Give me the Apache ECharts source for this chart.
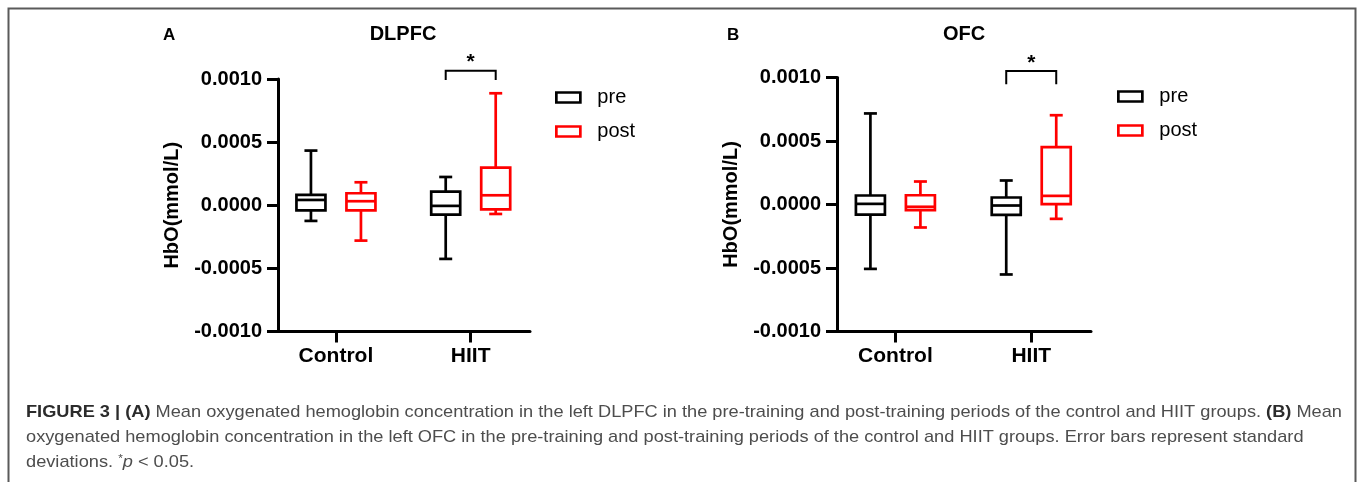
<!DOCTYPE html>
<html>
<head>
<meta charset="utf-8">
<script src="https://cdn.jsdelivr.net/npm/echarts@6/dist/echarts.min.js"></script>
<style>
  html, body { margin: 0; padding: 0; background: #fff; }
  #main { width: 1357px; height: 482px; }
</style>
</head>
<body>
<div id="main"></div>
<script>
const categories = ["Control", "HIIT"];
// box values per category: [min, Q1, median, Q3, max]
const dlpfcPre = [
  [-0.000124, -0.00004, 0.000042, 0.000082, 0.000433],
  [-0.000425, -0.000074, -0.000005, 0.000108, 0.000224],
];
const dlpfcPost = [
  [-0.00028, -0.00004, 0.000032, 0.000095, 0.000182],
  [-0.000069, -0.000032, 0.000079, 0.000298, 0.000887],
];
const ofcPre = [
  [-0.000507, -0.000079, 0.000005, 0.000071, 0.000717],
  [-0.000551, -0.000081, -0.000008, 0.000055, 0.000189],
];
const ofcPost = [
  [-0.000181, -0.000045, -0.000018, 0.000073, 0.000181],
  [-0.000113, 0.000003, 0.000068, 0.000451, 0.000703],
];
// significance bracket: [category index, top, bottom]
const dlpfcSig = [1, 0.001066, 0.000992];
const ofcSig = [1, 0.001052, 0.000947];

const caption1a = "FIGURE 3 | (A)";
const caption1b = " Mean oxygenated hemoglobin concentration in the left DLPFC in the pre-training and post-training periods of the control and HIIT groups. ";
const caption1c = "(B)";
const caption1d = " Mean";
const caption2 = "oxygenated hemoglobin concentration in the left OFC in the pre-training and post-training periods of the control and HIIT groups. Error bars represent standard";

const FONT = '"Liberation Sans", Arial, Helvetica, sans-serif';

let chartDom = document.getElementById("main");
let myChart = echarts.init(chartDom, null, { renderer: "canvas" });

// 量 caption 寬度, 用 scaleX 壓成窄字
const capSize = 17;
const ctx = document.createElement("canvas").getContext("2d");
const textWidth = (str, weight) => {
  ctx.font = weight + " " + capSize + "px " + FONT;
  return ctx.measureText(str).width;
};
const line1Width =
  textWidth(caption1a, "bold") + textWidth(caption1b, "normal") +
  textWidth(caption1c, "bold") + textWidth(caption1d, "normal");
const capScale = 1316 / line1Width;

const toRows = (arr) => arr.map((v, i) => [i].concat(v));

const boxItem = (shift, color) => (params, api) => {
  const i = api.value(0);
  const pMin = api.coord([i, api.value(1)]);
  const pQ1 = api.coord([i, api.value(2)]);
  const pMed = api.coord([i, api.value(3)]);
  const pQ3 = api.coord([i, api.value(4)]);
  const pMax = api.coord([i, api.value(5)]);
  const x = pMed[0] + shift;
  const hw = 14.5; // 半箱寬
  const cw = 6.5; // 端點短線
  const st = { stroke: color, lineWidth: 2.7, fill: null };
  return {
    type: "group",
    children: [
      { type: "line", shape: { x1: x, y1: pMax[1], x2: x, y2: pQ3[1] }, style: st },
      { type: "line", shape: { x1: x, y1: pQ1[1], x2: x, y2: pMin[1] }, style: st },
      { type: "line", shape: { x1: x - cw, y1: pMax[1], x2: x + cw, y2: pMax[1] }, style: st },
      { type: "line", shape: { x1: x - cw, y1: pMin[1], x2: x + cw, y2: pMin[1] }, style: st },
      {
        type: "rect",
        shape: { x: x - hw, y: pQ3[1], width: 2 * hw, height: pQ1[1] - pQ3[1] },
        style: { stroke: color, lineWidth: 2.7, fill: "#fff" },
      },
      { type: "line", shape: { x1: x - hw, y1: pMed[1], x2: x + hw, y2: pMed[1] }, style: st },
    ],
  };
};

const sigItem = (params, api) => {
  const i = api.value(0);
  const pTop = api.coord([i, api.value(1)]);
  const pBot = api.coord([i, api.value(2)]);
  const x = pTop[0];
  return {
    type: "group",
    children: [
      {
        type: "polyline",
        shape: {
          points: [
            [x - 25, pBot[1]], [x - 25, pTop[1]],
            [x + 25, pTop[1]], [x + 25, pBot[1]],
          ],
        },
        style: { stroke: "#000", lineWidth: 2, fill: null },
      },
      {
        type: "text",
        x: x,
        y: pTop[1] - 8,
        style: {
          text: "*", fontSize: 21, fontWeight: "bold", fontFamily: FONT,
          fill: "#000", align: "center", verticalAlign: "middle",
        },
      },
    ],
  };
};

const makeX = (gi) => ({
  gridIndex: gi,
  type: "value",
  min: -0.43,
  max: 1.44,
  splitLine: { show: false },
  axisLine: { show: true, onZero: false, lineStyle: { color: "#000", width: 3 } },
  axisTick: { show: true, customValues: [0, 1], length: 11, lineStyle: { color: "#000", width: 3 } },
  axisLabel: {
    customValues: [0, 1],
    formatter: (v) => categories[Math.round(v)],
    fontSize: 21, fontWeight: "bold", color: "#000", fontFamily: FONT, margin: 14,
  },
});

const makeY = (gi) => ({
  gridIndex: gi,
  type: "value",
  min: -0.001,
  max: 0.001,
  interval: 0.0005,
  splitLine: { show: false },
  axisLine: { show: true, onZero: false, lineStyle: { color: "#000", width: 3 } },
  axisTick: { show: true, length: 11, lineStyle: { color: "#000", width: 3 } },
  axisLabel: {
    formatter: (v) => (Math.abs(v) < 1e-12 ? 0 : v).toFixed(4),
    fontSize: 20, fontWeight: "bold", color: "#000", fontFamily: FONT, margin: 16,
  },
  name: "HbO(mmol/L)",
  nameLocation: "middle",
  nameRotate: 90,
  nameGap: 96,
  nameTextStyle: { fontSize: 20, fontWeight: "bold", color: "#000", fontFamily: FONT },
});

const makeLegend = (left, top) => ({
  left: left,
  top: top,
  padding: 0,
  orient: "vertical",
  icon: "rect",
  itemWidth: 24,
  itemHeight: 10,
  itemGap: 13,
  textStyle: { fontSize: 20, color: "#000", fontFamily: FONT, lineHeight: 21, padding: [0, 0, 0, 12] },
  data: [
    { name: "pre", itemStyle: { color: "#fff", borderColor: "#000", borderWidth: 2.7 } },
    { name: "post", itemStyle: { color: "#fff", borderColor: "#ff0000", borderWidth: 2.7 } },
  ],
});

const boxSeries = (name, gi, values, shift, color) => ({
  type: "custom",
  name: name,
  xAxisIndex: gi,
  yAxisIndex: gi,
  itemStyle: { color: color },
  encode: { x: 0, y: [1, 2, 3, 4, 5] },
  data: toRows(values),
  renderItem: boxItem(shift, color),
});

const sigSeries = (gi, sig) => ({
  type: "custom",
  name: "sig",
  xAxisIndex: gi,
  yAxisIndex: gi,
  clip: false,
  encode: { x: 0, y: [1, 2] },
  data: [sig],
  renderItem: sigItem,
});

const titleStyle = (size) => ({ fontSize: size, fontWeight: "bold", color: "#000", fontFamily: FONT });

let option = {
  animation: false,
  backgroundColor: "#fff",
  title: [
    { text: "A", left: 163, top: 27, padding: 0, textStyle: titleStyle(17) },
    { text: "DLPFC", left: 403, top: 24, padding: 0, textAlign: "center", textStyle: titleStyle(20) },
    { text: "B", left: 727, top: 27, padding: 0, textStyle: titleStyle(17) },
    { text: "OFC", left: 964, top: 24, padding: 0, textAlign: "center", textStyle: titleStyle(20) },
  ],
  legend: [makeLegend(555, 87), makeLegend(1117, 86)],
  grid: [
    { left: 278, top: 79, width: 252, height: 252.5 },
    { left: 837, top: 77.5, width: 254, height: 254 },
  ],
  xAxis: [makeX(0), makeX(1)],
  yAxis: [makeY(0), makeY(1)],
  series: [
    boxSeries("pre", 0, dlpfcPre, -25, "#000"),
    boxSeries("post", 0, dlpfcPost, 25, "#ff0000"),
    boxSeries("pre", 1, ofcPre, -25, "#000"),
    boxSeries("post", 1, ofcPost, 25, "#ff0000"),
    sigSeries(0, dlpfcSig),
    sigSeries(1, ofcSig),
  ],
  graphic: [
    {
      type: "rect",
      shape: { x: 8.5, y: 8.5, width: 1347, height: 520 },
      style: { fill: null, stroke: "#5a5a5a", lineWidth: 2 },
      silent: true,
    },
    {
      type: "text",
      x: 26, y: 412, scaleX: capScale,
      style: {
        text: "{b|" + caption1a + "}" + caption1b + "{b|" + caption1c + "}" + caption1d,
        fontSize: capSize, fontFamily: FONT, fill: "#4d4d4d", verticalAlign: "middle",
        rich: { b: { fontWeight: "bold", fill: "#2b2b2b", fontSize: capSize, fontFamily: FONT } },
      },
    },
    {
      type: "text",
      x: 26, y: 437, scaleX: capScale,
      style: { text: caption2, fontSize: capSize, fontFamily: FONT, fill: "#4d4d4d", verticalAlign: "middle" },
    },
    {
      type: "text",
      x: 26, y: 462, scaleX: capScale,
      style: {
        text: "deviations. {s|*}{i|p} < 0.05.",
        fontSize: capSize, fontFamily: FONT, fill: "#4d4d4d", verticalAlign: "middle",
        rich: {
          s: { fontSize: 11, fill: "#4d4d4d", fontFamily: FONT, verticalAlign: "top", padding: [0, 0, 4, 0] },
          i: { fontStyle: "italic", fontSize: capSize, fill: "#4d4d4d", fontFamily: FONT },
        },
      },
    },
  ],
};

option && myChart.setOption(option);
</script>
</body>
</html>
